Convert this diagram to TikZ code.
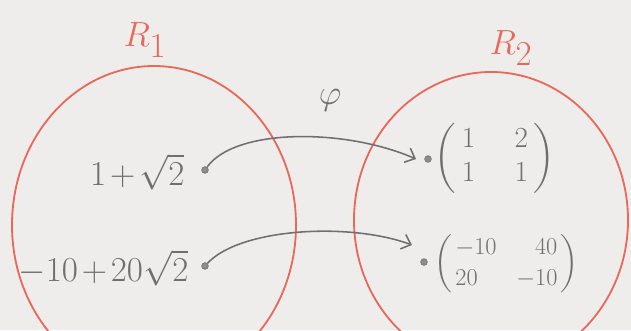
\documentclass[tikz,border=0pt]{standalone}
\usepackage{amsmath}
\usepackage{xcolor}
\usepackage{tikz}
\usetikzlibrary{arrows.meta,positioning,shapes.geometric}
\definecolor{paperGray}{HTML}{EEEDEB}
\definecolor{ringRed}{HTML}{E8695C}
\definecolor{pencilGray}{HTML}{6F6F6F}

\tikzset{
  ring/.style={ellipse, draw=ringRed, line width=1.3pt, inner sep=0pt},
  ringlabel/.style={ringRed, font=\fontsize{34}{38}\selectfont},
  elem/.style={pencilGray, font=\fontsize{25}{30}\selectfont, inner sep=1pt},
  dot/.style={circle, draw=pencilGray, fill=pencilGray!80, inner sep=1.7pt},
  maparrow/.style={pencilGray, line width=1.1pt, -{Straight Barb[length=6pt,width=11pt,line width=1.1pt]}}
}

\begin{document}
\begin{tikzpicture}[x=0.025cm, y=-0.025cm]
        % paper
        \fill[paperGray] (0,0) rectangle (631,330);
        \useasboundingbox (0,0) rectangle (631,330);
        \clip (0,0) rectangle (631,330);

        % the two rings
        \node[ring, minimum width=284*0.025cm, minimum height=318*0.025cm] (r1) at (154,225) {};
        \node[ring, minimum width=274*0.025cm, minimum height=296*0.025cm] (r2) at (491,220) {};
        \node[ringlabel] (r1lab) at (145,40) {$R_1$};
        \node[ringlabel] (r2lab) at (511,48) {$R_2$};

        % elements of R1
        \node[elem, anchor=east] (a1) at (186,172) {$1\mskip2mu{+}\mskip2mu\sqrt{2}$};
        \node[elem, anchor=east, font=\fontsize{23}{28}\selectfont] (a2) at (190,268)
            {${-}10\mskip2mu{+}\mskip2mu20\sqrt{2}$};
        \node[dot] (p1) at (205,170) {};
        \node[dot] (p2) at (205,266) {};

        % elements of R2
        \node[dot] (q1) at (428,159) {};
        \node[dot] (q2) at (424,262) {};
        \node[elem, anchor=west, font=\fontsize{20}{24}\selectfont] (b1) at (433,158)
            {$\left(\begin{array}{@{\hspace{4pt}}c@{\hspace{28pt}}c@{\hspace{4pt}}} 1 & 2\\ 1 & 1 \end{array}\right)$};
        \node[elem, anchor=west, font=\fontsize{18}{22}\selectfont] (b2) at (433,264)
            {$\left(\begin{array}{@{\hspace{2pt}}l@{\hspace{14pt}}r@{\hspace{2pt}}} -10 & 40\\ 20 & -10 \end{array}\right)$};
        \coordinate (e1) at (416,159);
        \coordinate (e2) at (412,245);

        % the map
        \node[elem, font=\fontsize{30}{34}\selectfont] (phi) at (330,100) {$\varphi$};
        \draw[maparrow] (p1) .. controls (235,128) and (345,128) .. (e1);
        \draw[maparrow] (p2) .. controls (240,228) and (350,222) .. (e2);
    \end{tikzpicture}
\end{document}
